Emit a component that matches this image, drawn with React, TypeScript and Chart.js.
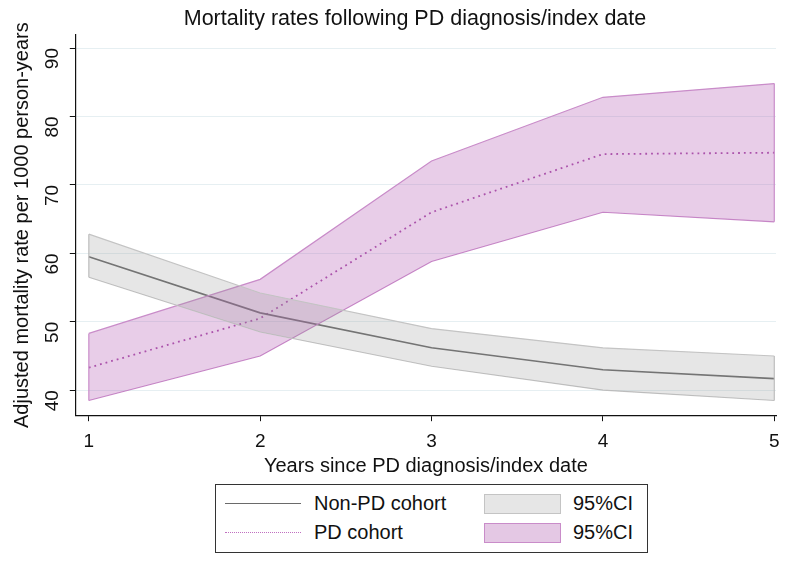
import React, { useEffect, useRef } from "react";
import { Chart, registerables } from "chart.js";

Chart.register(...registerables);

const years = [1, 2, 3, 4, 5];
const nonPdRate = [59.5, 51.3, 46.2, 43.0, 41.7];
const nonPdUpper = [62.8, 54.2, 49.0, 46.2, 45.0];
const nonPdLower = [56.5, 48.5, 43.5, 40.0, 38.5];
const pdRate = [43.3, 50.5, 66.0, 74.5, 74.7];
const pdUpper = [48.3, 56.2, 73.5, 82.8, 84.8];
const pdLower = [38.5, 45.0, 58.8, 66.0, 64.6];
const xTicks = [1, 2, 3, 4, 5];
const yTicks = [40, 50, 60, 70, 80, 90];

const FONT = "'Liberation Sans', Arial, sans-serif";

const toPts = (vals: number[]) => vals.map((v, i) => ({ x: years[i], y: v }));

const bandEdges = {
  id: "bandEdges",
  afterDatasetsDraw(chart: any) {
    const { ctx, scales } = chart;
    const pairs = [
      [0, 1, "#bdbdbd"],
      [2, 3, "#c98cc9"],
    ];
    ctx.save();
    for (const [u, l, c] of pairs as any) {
      const up = chart.data.datasets[u].data;
      const lo = chart.data.datasets[l].data;
      for (const idx of [0, up.length - 1]) {
        const x = scales.x.getPixelForValue(up[idx].x);
        ctx.beginPath();
        ctx.strokeStyle = c;
        ctx.lineWidth = 1.2;
        ctx.moveTo(x, scales.y.getPixelForValue(up[idx].y));
        ctx.lineTo(x, scales.y.getPixelForValue(lo[idx].y));
        ctx.stroke();
      }
    }
    ctx.restore();
  },
};

export default function App() {
  const ref = useRef<HTMLCanvasElement>(null);
  useEffect(() => {
    document.body.style.margin = "0";
    const chart = new Chart(ref.current!, {
      type: "line",
      data: {
        datasets: [
          {
            label: "nonPdUpper",
            data: toPts(nonPdUpper),
            borderColor: "#c4c4c4",
            borderWidth: 1.2,
            backgroundColor: "rgba(150,150,150,0.24)",
            fill: "+1",
            pointRadius: 0,
            tension: 0,
          },
          {
            label: "nonPdLower",
            data: toPts(nonPdLower),
            borderColor: "#c4c4c4",
            borderWidth: 1.2,
            fill: false,
            pointRadius: 0,
            tension: 0,
          },
          {
            label: "pdUpper",
            data: toPts(pdUpper),
            borderColor: "#c98cc9",
            borderWidth: 1.2,
            backgroundColor: "rgba(180,90,180,0.3)",
            fill: "+1",
            pointRadius: 0,
            tension: 0,
          },
          {
            label: "pdLower",
            data: toPts(pdLower),
            borderColor: "#c98cc9",
            borderWidth: 1.2,
            fill: false,
            pointRadius: 0,
            tension: 0,
          },
          {
            label: "Non-PD cohort",
            data: toPts(nonPdRate),
            borderColor: "#6a6a6a",
            borderWidth: 1.6,
            fill: false,
            pointRadius: 0,
            tension: 0,
          },
          {
            label: "PD cohort",
            data: toPts(pdRate),
            borderColor: "#a850a8",
            borderWidth: 1.8,
            borderDash: [1.8, 4],
            fill: false,
            pointRadius: 0,
            tension: 0,
          },
        ],
      },
      options: {
        animation: false,
        responsive: false,
        layout: { padding: { top: 35, right: 24, bottom: 86, left: 10 } },
        plugins: {
          legend: { display: false },
          tooltip: { enabled: false },
          title: { display: false },
        },
        scales: {
          x: {
            type: "linear",
            min: 0.924,
            max: 5.01,
            afterBuildTicks: (axis: any) => {
              axis.ticks = xTicks.map((v) => ({ value: v }));
            },
            ticks: { color: "#111", font: { family: FONT, size: 19 }, padding: 9, maxRotation: 0 },
            grid: { drawOnChartArea: false, drawTicks: true, tickLength: 6, tickColor: "#111" },
            border: { display: true, color: "#111", width: 1.2 },
            title: {
              display: true,
              text: "Years since PD diagnosis/index date",
              color: "#111",
              font: { family: FONT, size: 20 },
              padding: { top: -8, bottom: 0 },
            },
          },
          y: {
            type: "linear",
            min: 36.35,
            max: 91.9,
            afterBuildTicks: (axis: any) => {
              axis.ticks = yTicks.map((v) => ({ value: v }));
            },
            ticks: { color: "#111", font: { family: FONT, size: 19 }, padding: 17, minRotation: 90, maxRotation: 90 },
            grid: { color: "#e6eff2", lineWidth: 1, drawTicks: true, tickLength: 6, tickColor: "#111" },
            border: { display: true, color: "#111", width: 1.2 },
            title: {
              display: true,
              text: "Adjusted mortality rate per 1000 person-years",
              color: "#111",
              font: { family: FONT, size: 20 },
              padding: { top: 0, bottom: -21 },
            },
          },
        },
      },
      plugins: [bandEdges],
    } as any);
    return () => chart.destroy();
  }, []);

  const txt: React.CSSProperties = { position: "absolute", fontFamily: FONT, fontSize: 20, color: "#111", lineHeight: "22px" };
  return (
    <div style={{ position: "relative", width: 800, height: 564 }}>
      <canvas ref={ref} width={800} height={564} style={{ display: "block" }} />
      <div style={{ position: "absolute", left: 0, top: 6, width: 830, textAlign: "center", fontFamily: FONT, fontSize: 21.5, lineHeight: "24px", color: "#111" }}>
        Mortality rates following PD diagnosis/index date
      </div>
      <div style={{ position: "absolute", left: 215, top: 484, width: 431, height: 67, border: "1px solid #333", background: "#fff" }} />
      <div style={{ position: "absolute", left: 225, top: 503, width: 76, borderTop: "1.5px solid #6a6a6a" }} />
      <div style={{ position: "absolute", left: 225, top: 532, width: 76, borderTop: "1.5px dotted #c070c0" }} />
      <div style={{ ...txt, left: 314, top: 492 }}>Non-PD cohort</div>
      <div style={{ ...txt, left: 314, top: 521 }}>PD cohort</div>
      <div style={{ position: "absolute", left: 484, top: 494, width: 75, height: 18, background: "#e6e6e6", border: "1px solid #c4c4c4" }} />
      <div style={{ position: "absolute", left: 484, top: 523, width: 75, height: 18, background: "#e4c8e4", border: "1px solid #c98cc9" }} />
      <div style={{ ...txt, left: 573, top: 492 }}>95%CI</div>
      <div style={{ ...txt, left: 573, top: 521 }}>95%CI</div>
    </div>
  );
}
